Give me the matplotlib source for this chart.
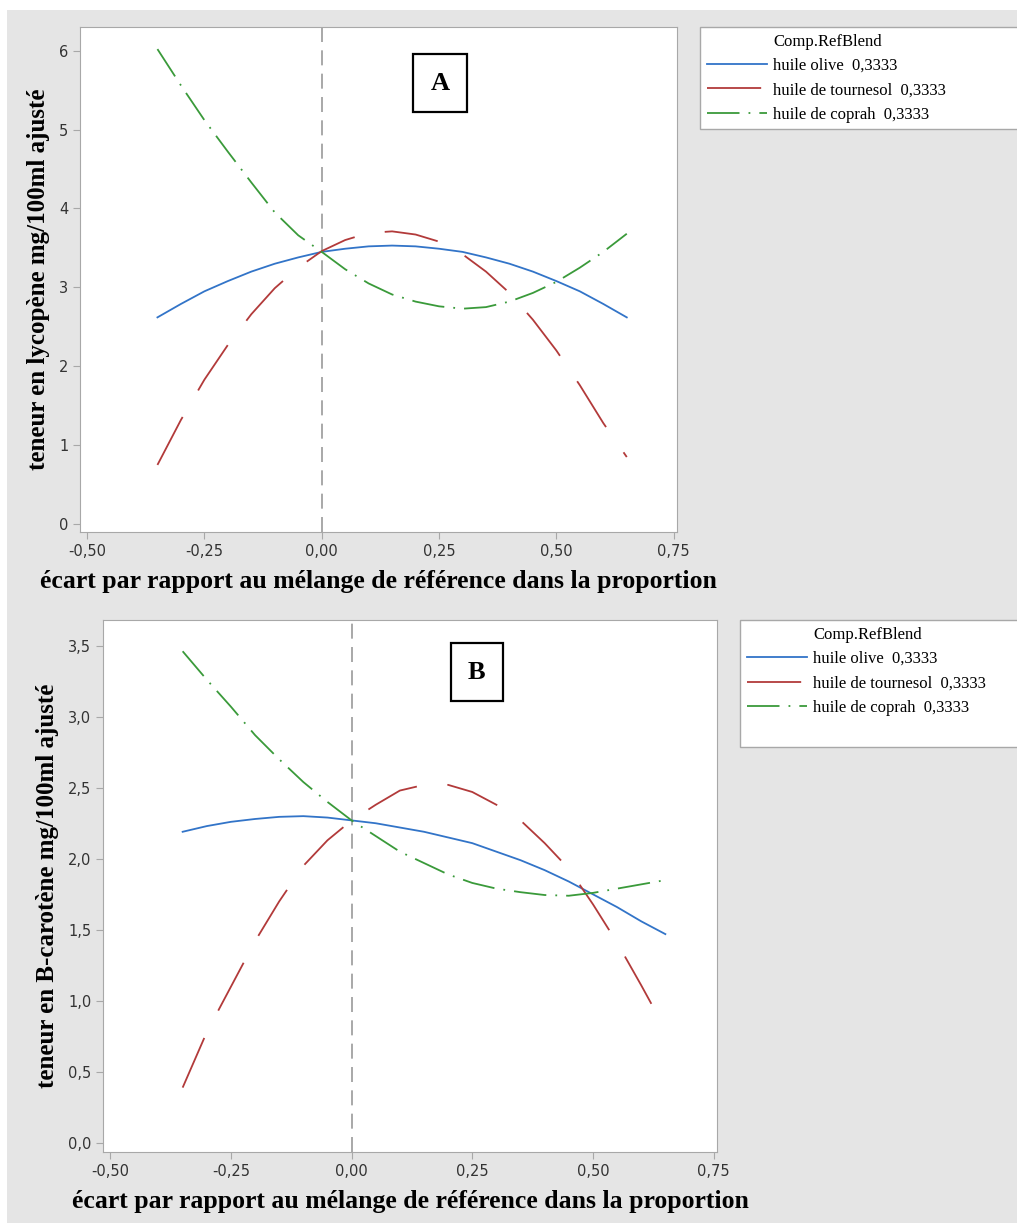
import matplotlib.pyplot as plt
from matplotlib.lines import Line2D
from matplotlib.patches import Rectangle

# écart par rapport au mélange de référence
x = [-0.35, -0.30, -0.25, -0.20, -0.15, -0.10, -0.05, 0.00, 0.05, 0.10, 0.15,
     0.20, 0.25, 0.30, 0.35, 0.40, 0.45, 0.50, 0.55, 0.60, 0.65]

# A : lycopène
lyco_olive = [2.62, 2.79, 2.95, 3.08, 3.20, 3.30, 3.38, 3.45, 3.49, 3.52, 3.53,
              3.52, 3.49, 3.45, 3.38, 3.30, 3.20, 3.08, 2.95, 2.79, 2.62]
lyco_tournesol = [0.75, 1.32, 1.83, 2.27, 2.66, 2.99, 3.25, 3.46, 3.60, 3.69, 3.71,
                  3.67, 3.58, 3.42, 3.20, 2.93, 2.59, 2.20, 1.76, 1.28, 0.85]
lyco_coprah = [6.02, 5.56, 5.12, 4.72, 4.33, 3.95, 3.66, 3.45, 3.23, 3.05, 2.91,
               2.82, 2.76, 2.73, 2.75, 2.82, 2.93, 3.07, 3.25, 3.45, 3.68]

# B : B-carotène
caro_olive = [2.19, 2.23, 2.26, 2.28, 2.295, 2.30, 2.29, 2.27, 2.25, 2.22, 2.19,
              2.15, 2.11, 2.05, 1.99, 1.92, 1.84, 1.75, 1.66, 1.56, 1.47]
caro_tournesol = [0.39, 0.78, 1.10, 1.42, 1.70, 1.95, 2.13, 2.27, 2.38, 2.48, 2.52,
                  2.52, 2.47, 2.38, 2.27, 2.11, 1.93, 1.68, 1.41, 1.11, 0.80]
caro_coprah = [3.46, 3.26, 3.07, 2.87, 2.70, 2.54, 2.40, 2.27, 2.16, 2.05, 1.97,
               1.89, 1.83, 1.79, 1.765, 1.745, 1.74, 1.76, 1.79, 1.82, 1.85]

labels = ["huile olive  0,3333", "huile de tournesol  0,3333", "huile de coprah  0,3333"]
xticks = [-0.50, -0.25, 0.00, 0.25, 0.50, 0.75]

c_blue = "#3274c8"
c_red = "#b23a3a"
c_green = "#3a9a3a"
serif = "Liberation Serif"

fig = plt.figure(figsize=(10.17, 12.23), dpi=100)
fig.patch.set_facecolor("#e5e5e5")
fig.add_artist(Rectangle((0, 0), 7 / 1017, 1, transform=fig.transFigure,
                         facecolor="white", edgecolor="none", zorder=-1))
fig.add_artist(Rectangle((0, 1 - 10 / 1223), 1, 10 / 1223, transform=fig.transFigure,
                         facecolor="white", edgecolor="none", zorder=-1))


def panel(rect, series, ylim, yticks, ylabel, letter, letter_pos, leg_box, extra_rows):
    ax = fig.add_axes(rect)
    ax.set_facecolor("white")
    ax.axvline(0, color="#999999", lw=1.2, dashes=(9, 5), zorder=1)
    l1, = ax.plot(x, series[0], color=c_blue, lw=1.3, zorder=3)
    l2, = ax.plot(x, series[1], color=c_red, lw=1.3, dashes=(30, 17), zorder=3)
    l3, = ax.plot(x, series[2], color=c_green, lw=1.3, dashes=(18, 5, 1, 5), zorder=3)
    ax.set_xlim(-0.515, 0.757)
    ax.set_ylim(*ylim)
    ax.set_xticks(xticks)
    ax.set_xticklabels([f"{v:.2f}".replace(".", ",") for v in xticks])
    ax.set_yticks(yticks)
    if letter == "A":
        ax.set_yticklabels([f"{v:g}" for v in yticks])
    else:
        ax.set_yticklabels([f"{v:.1f}".replace(".", ",") for v in yticks])
    for s in ax.spines.values():
        s.set_color("#a8a8a8")
    ax.tick_params(colors="#a8a8a8", labelcolor="#333333", labelsize=10.5, length=5)
    ax.set_ylabel(ylabel, family=serif, fontweight="bold", fontsize=18, labelpad=6)
    ax.set_xlabel("écart par rapport au mélange de référence dans la proportion",
                  family=serif, fontweight="bold", fontsize=18.5, labelpad=8)
    ax.text(letter_pos[0], letter_pos[1], letter, transform=ax.transAxes,
            family=serif, fontweight="bold", fontsize=19, ha="center", va="center",
            bbox=dict(boxstyle="square,pad=0.65", facecolor="white",
                      edgecolor="black", lw=1.6))
    blank = Line2D([], [], color="none")
    handles = [blank, l1, l2, l3] + [blank] * extra_rows
    texts = ["Comp.RefBlend"] + labels + [""] * extra_rows
    fig.legend(handles, texts, loc="upper left", bbox_to_anchor=leg_box,
               mode="expand", borderaxespad=0, frameon=True,
               fancybox=False, edgecolor="#a8a8a8", framealpha=1,
               prop=dict(family=serif, size=12), handlelength=3.6,
               handletextpad=0.4, labelspacing=0.5, borderpad=0.4)
    return ax


panel([80 / 1017, 1 - 532 / 1223, 597 / 1017, 505 / 1223],
      [lyco_olive, lyco_tournesol, lyco_coprah], (-0.1, 6.3), [0, 1, 2, 3, 4, 5, 6],
      "teneur en lycopène mg/100ml ajusté", "A", (0.603, 0.889),
      (700 / 1017, 1 - 27 / 1223, 320 / 1017, 0.0), 0)

panel([103 / 1017, 1 - 1152 / 1223, 614 / 1017, 532 / 1223],
      [caro_olive, caro_tournesol, caro_coprah], (-0.063, 3.68),
      [0.0, 0.5, 1.0, 1.5, 2.0, 2.5, 3.0, 3.5],
      "teneur en B-carotène mg/100ml ajusté", "B", (0.609, 0.902),
      (740 / 1017, 1 - 620 / 1223, 280 / 1017, 0.0), 1)

fig.savefig("out.png", dpi=100, facecolor=fig.get_facecolor())
